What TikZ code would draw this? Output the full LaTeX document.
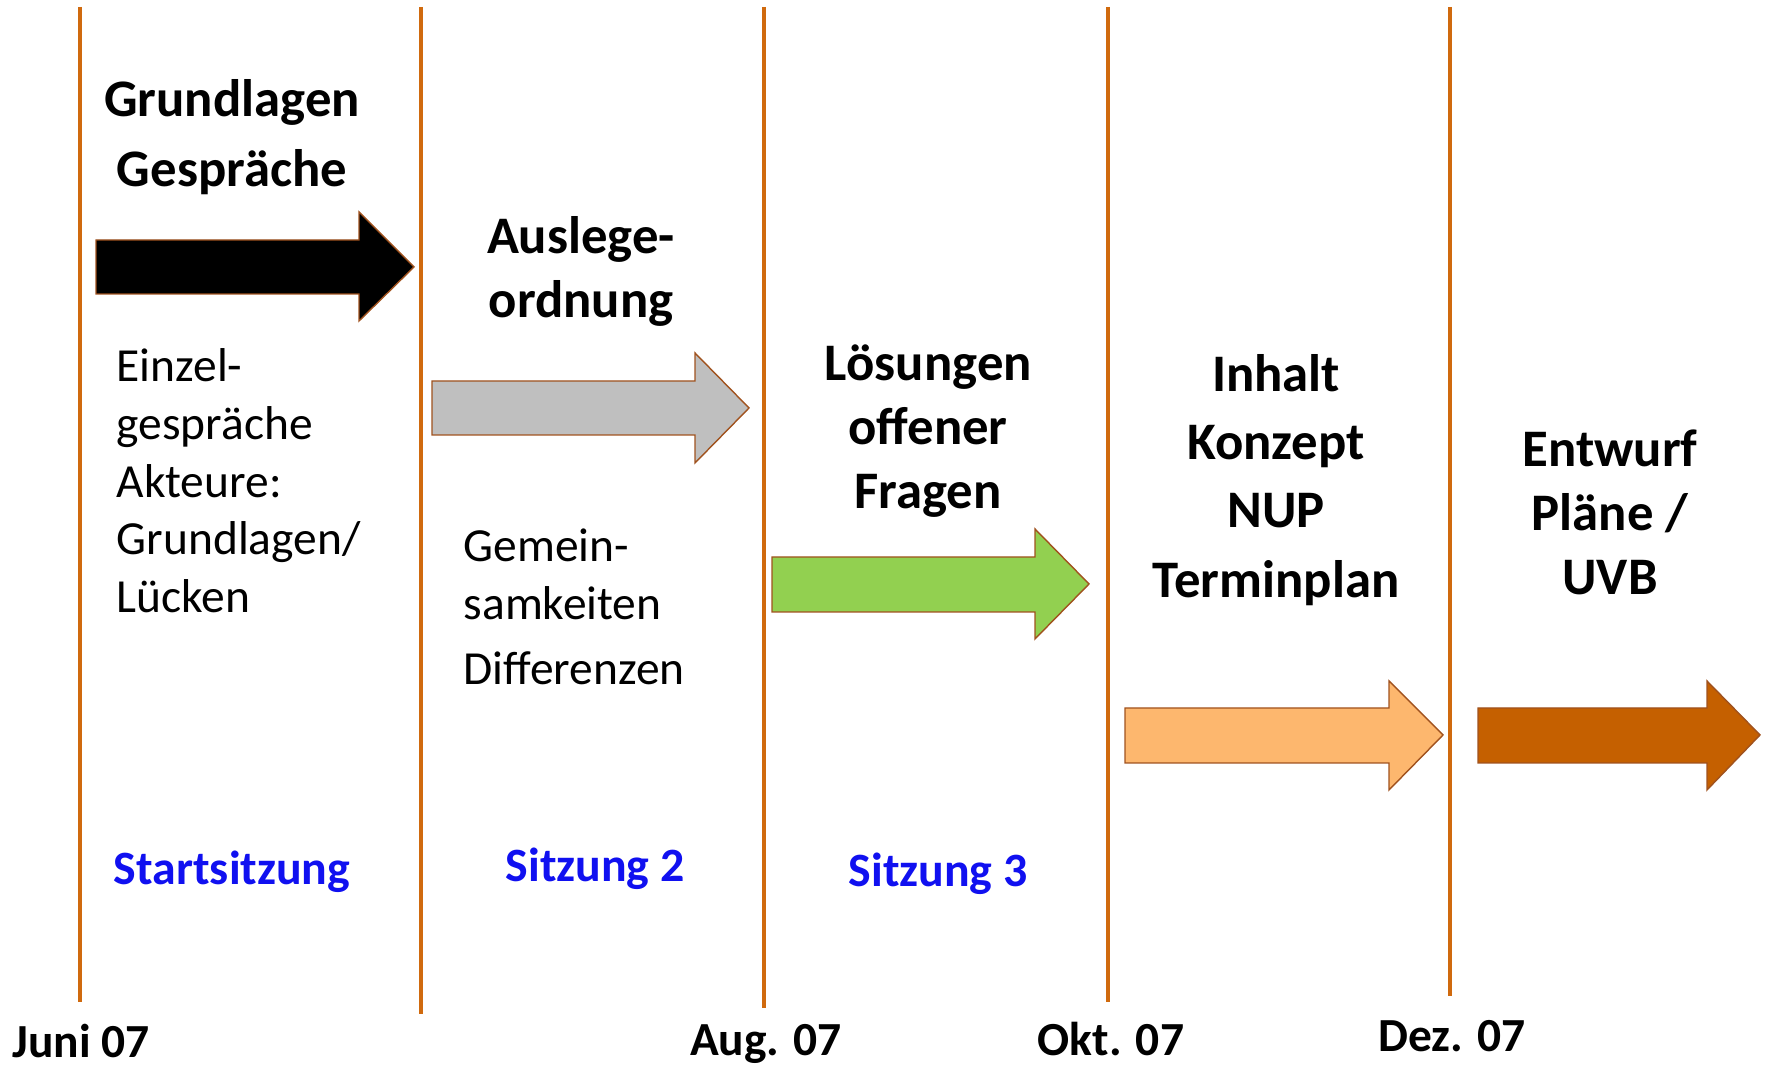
\documentclass[tikz,border=0pt]{standalone}
\usepackage{fontspec}
\setmainfont{Carlito}
\usepackage{xcolor}
\usepackage{tikz}
\usetikzlibrary{positioning}

\definecolor{lineorange}{HTML}{D06A0E}
\definecolor{arrowedge}{HTML}{A0521E}
\definecolor{grayfill}{HTML}{BFBFBF}
\definecolor{greenfill}{HTML}{92D050}
\definecolor{lightorange}{HTML}{FDB76E}
\definecolor{darkorange}{HTML}{C56000}
\definecolor{sitzblue}{HTML}{1010F0}

\begin{document}
\begin{tikzpicture}[x=0.01cm, y=-0.01cm]
		\tikzset{phase/.style={font=\fontsize{15}{18.2}\selectfont\bfseries, align=center, inner sep=0pt},
			note/.style={font=\fontsize{13.5}{16.4}\selectfont, align=left, inner sep=0pt, anchor=west},
			meeting/.style={font=\fontsize{13.6}{16}\selectfont\bfseries, text=sitzblue, inner sep=0pt},
			datelabel/.style={font=\fontsize{13.5}{16}\selectfont\bfseries, inner sep=0pt},
			milestone/.style={draw=lineorange, line width=0.035cm},
			blockarrow/.style={draw=arrowedge, line width=0.4pt, line join=miter}}

		\useasboundingbox (0,0) rectangle (1765,1065);

		% Milestone lines
		\draw [milestone] (80,7) -- (80,1002);
		\draw [milestone] (421,7) -- (421,1014);
		\draw [milestone] (764,7) -- (764,1008);
		\draw [milestone] (1108,7) -- (1108,1002);
		\draw [milestone] (1450,7) -- (1450,996);

		% Phase arrows
		\draw [blockarrow, fill=black] (96,240) -- (359,240) -- (359,212) -- (414,267) -- (359,321) -- (359,294) -- (96,294) -- cycle;

		\draw [blockarrow, fill=grayfill] (432,381) -- (695,381) -- (695,353) -- (749,408) -- (695,463) -- (695,435) -- (432,435) -- cycle;

		\draw [blockarrow, fill=greenfill] (772,557) -- (1035,557) -- (1035,529) -- (1089,584) -- (1035,639) -- (1035,612) -- (772,612) -- cycle;

		\draw [blockarrow, fill=lightorange] (1125,708) -- (1389,708) -- (1389,681) -- (1443,735) -- (1389,790) -- (1389,763) -- (1125,763) -- cycle;

		\draw [blockarrow, fill=darkorange] (1478,708) -- (1707,708) -- (1707,681) -- (1760,735) -- (1707,790) -- (1707,763) -- (1478,763) -- cycle;

		% Phase titles
		\node[phase] (grundlagen) at (232,137) {Grundlagen\\[1.7pt]Gespräche};
		\node[phase] (auslegung) at (581,271) {Auslege-\\ordnung};
		\node[phase] (loesungen) at (928,431) {Lösungen\\offener\\Fragen};
		\node[phase] (inhalt) at (1276,480) {Inhalt\\[1.2pt]Konzept\\[1.2pt]NUP\\[1.7pt]Terminplan};
		\node[phase] (entwurf) at (1610,512) {Entwurf\\Pläne /\\UVB};

		% Notes
		\node[note] (einzel) at (116,481) {Einzel-\\gespräche\\Akteure:\\Grundlagen/\\Lücken};
		\node[note] (gemein) at (463,607) {Gemein-\\samkeiten\\[2.3pt]Differenzen};

		% Meetings
		\node[meeting] (start) at (232,872) {Startsitzung};
		\node[meeting] (sitz2) at (595,869) {Sitzung 2};
		\node[meeting] (sitz3) at (938,874) {Sitzung 3};

		% Dates
		\node[datelabel] (juni) at (81,1041) {Juni 07};
		\node[datelabel] (aug) at (766,1044) {Aug. 07};
		\node[datelabel] (okt) at (1111,1039) {Okt. 07};
		\node[datelabel] (dez) at (1452,1036) {Dez. 07};

	\end{tikzpicture}
\end{document}
